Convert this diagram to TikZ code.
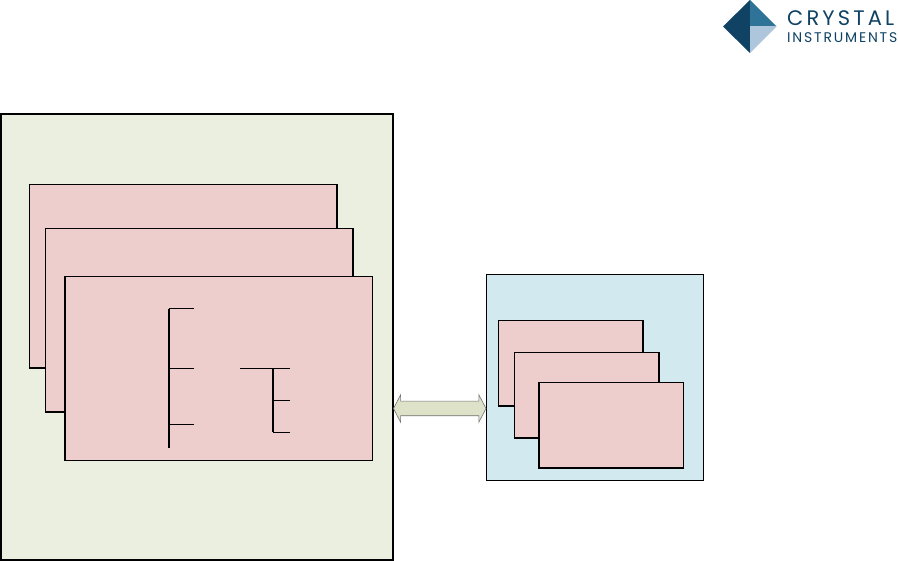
\documentclass[tikz,border=0pt]{standalone}
\usepackage{fontspec}
\setmainfont{Poppins}
\usetikzlibrary{shapes.arrows}
\definecolor{outerfill}{HTML}{EBEFDF}
\definecolor{pinkfill}{HTML}{EDCECD}
\definecolor{bluefill}{HTML}{D2EAEF}
\definecolor{arrowfill}{HTML}{DDE2C9}
\definecolor{navy}{HTML}{0F4263}
\definecolor{midblue}{HTML}{2F7399}
\definecolor{lightblue}{HTML}{AEC6DC}
\tikzset{
  panel/.style n args={2}{draw=black,rectangle,outer sep=0pt,inner sep=0pt,anchor=north west,minimum width=#1,minimum height=#2},
  pinkbox/.style={fill=pinkfill,line width=1.3pt},
  trunk/.style={line width=2pt,line cap=butt},
  twig/.style={line width=1pt,line cap=butt},
  logotext/.style={text=navy,inner sep=0pt,anchor=base west}
}
\begin{document}
\begin{tikzpicture}[x=1pt,y=-1pt]
\useasboundingbox (0,0) rectangle (898,561);
% outer panels
\node[panel={392pt}{446pt},fill=outerfill,line width=2pt] (outer) at (1,114) {};
\node[panel={217pt}{206pt},fill=bluefill,line width=1pt] (side) at (486.5,274.5) {};
% left stack
\node[panel={307.5pt}{183.5pt},pinkbox] (a1) at (29.5,184.5) {};
\node[panel={307.5pt}{183.5pt},pinkbox] (a2) at (45.5,228.5) {};
\node[panel={307.5pt}{184pt},pinkbox] (a3) at (65,276.5) {};
% right stack
\node[panel={144.5pt}{85.5pt},pinkbox] (b1) at (498.5,320.5) {};
\node[panel={144.5pt}{85.5pt},pinkbox] (b2) at (514.5,352.5) {};
\node[panel={144.5pt}{85.5pt},pinkbox] (b3) at (539,382.5) {};
% tree
\coordinate (t0) at (169,308.5);
\coordinate (t1) at (169,368.5);
\coordinate (t2) at (169,424.5);
\coordinate (tend) at (169,448.5);
\coordinate (e0) at (193.5,308.5);
\coordinate (e1) at (193.5,368.5);
\coordinate (e2) at (193.5,424.5);
\coordinate (s0) at (240,368.5);
\coordinate (s1) at (273,368.5);
\coordinate (s2) at (273,400.5);
\coordinate (s3) at (273,432.5);
\coordinate (f1) at (289.5,368.5);
\coordinate (f2) at (289.5,400.5);
\coordinate (f3) at (289.5,432.5);
\draw[trunk] ([yshift=-.5pt]t0) -- (tend);
\draw[twig] (t0) -- (e0);
\draw[twig] (t1) -- (e1);
\draw[twig] (t2) -- (e2);
\draw[twig] (s0) -- (f1);
\draw[trunk] (s1) -- ([yshift=.5pt]s3);
\draw[twig] (s2) -- (f2);
\draw[twig] (s3) -- (f3);
% double arrow
\node[double arrow,draw=black!55,fill=arrowfill,line width=.6pt,outer sep=0pt,inner sep=0pt,
  minimum height=92.5pt,minimum width=27pt,double arrow head extend=6.5pt,
  double arrow tip angle=125,text width=80pt,text height=7pt,text depth=7pt] (link) at (439.75,408.5) {};
% logo
\coordinate (lt) at (750,0);
\coordinate (lb) at (750,53);
\coordinate (ll) at (723,26.5);
\coordinate (lr) at (776.5,26.5);
\fill[navy] (lt) -- (ll) -- (lb) -- cycle;
\fill[midblue] (lt) -- (lr) -- (750,26.5) -- cycle;
\fill[lightblue] (750,26.5) -- (lr) -- (lb) -- cycle;
\node[logotext,font=\fontsize{21}{21}\selectfont\addfontfeatures{LetterSpace=15}] (logo1) at (787,26) {CRYSTAL};
\node[logotext,font=\fontsize{14}{14}\selectfont\addfontfeatures{LetterSpace=13}] (logo2) at (787,43) {INSTRUMENTS};
\end{tikzpicture}
\end{document}
